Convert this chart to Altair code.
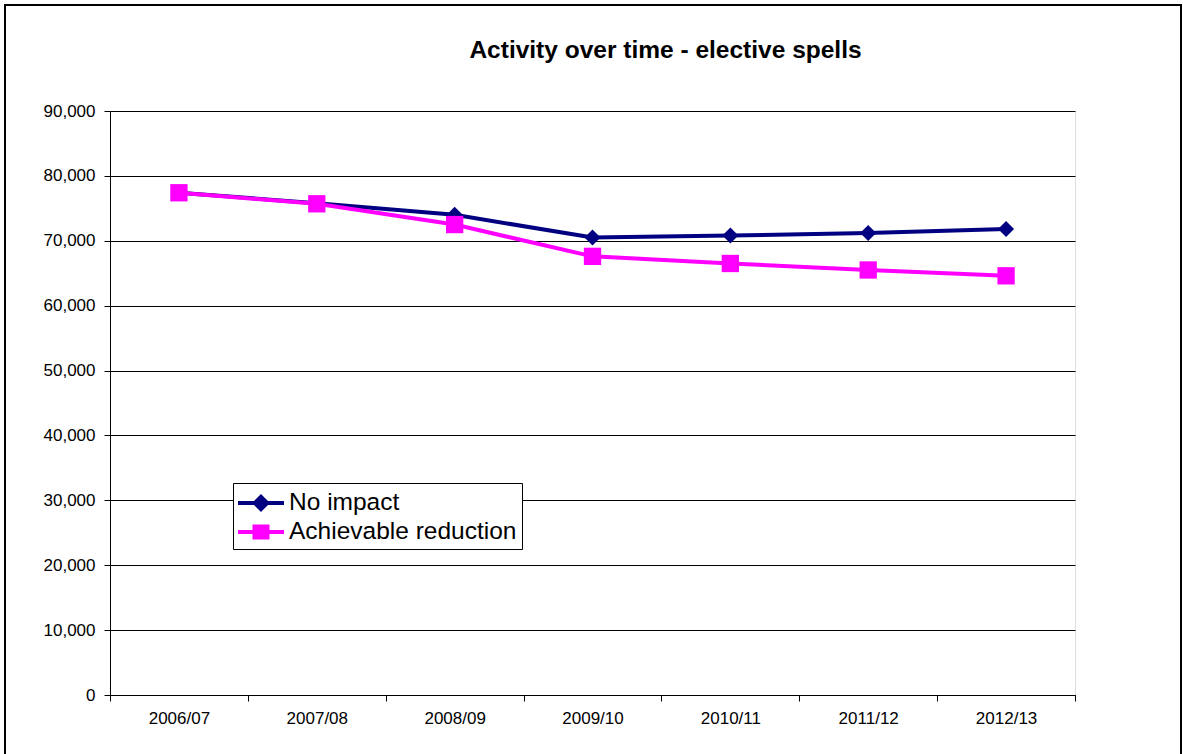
import altair as alt
import pandas as pd

years = ["2006/07", "2007/08", "2008/09", "2009/10", "2010/11", "2011/12", "2012/13"]
no_impact = [77400, 75800, 74000, 70500, 70800, 71200, 71800]
achievable = [77400, 75700, 72500, 67600, 66500, 65500, 64600]
series_names = ["No impact", "Achievable reduction"]
series_colors = ["#000080", "#FF00FF"]

df = pd.DataFrame({
    "year": years * 2,
    "value": no_impact + achievable,
    "series": [series_names[0]] * len(years) + [series_names[1]] * len(years),
})
df_a = df[df.series == series_names[0]]
df_b = df[df.series == series_names[1]]

FONT = "Liberation Sans"

x_enc = alt.X("year:N", sort=years, bandPosition=0.5,
              scale=alt.Scale(type="band", paddingInner=0, paddingOuter=0),
              axis=alt.Axis(title=None, tickBand="extent", labelAngle=0,
                            tickSize=6, labelPadding=9, labelFontSize=17,
                            labelFont=FONT, labelColor="black",
                            domainColor="black", tickColor="black", grid=False))
y_enc = alt.Y("value:Q",
              scale=alt.Scale(domain=[0, 90000], nice=False),
              axis=alt.Axis(title=None, values=list(range(0, 90001, 10000)),
                            format=",.0f", tickSize=6, labelPadding=9,
                            labelFontSize=17, labelFont=FONT, labelColor="black",
                            domainColor="black", tickColor="black",
                            grid=True, gridColor="black", gridWidth=1))

frame = alt.Chart(pd.DataFrame({"k": [0]})).mark_rect(
    fill=None, stroke="black", strokeWidth=2
).encode(x=alt.value(-105), x2=alt.value(1071), y=alt.value(-106), y2=alt.value(660))

line_a = alt.Chart(df_a).mark_line(color=series_colors[0], strokeWidth=4).encode(x=x_enc, y=y_enc)
pts_a = alt.Chart(df_a).mark_point(shape="diamond", filled=True, size=256, opacity=1,
                                   color=series_colors[0]).encode(x=x_enc, y=y_enc)
line_b = alt.Chart(df_b).mark_line(color=series_colors[1], strokeWidth=4).encode(x=x_enc, y=y_enc)
pts_b = alt.Chart(df_b).mark_point(shape="square", filled=True, size=300, opacity=1,
                                   color=series_colors[1]).encode(x=x_enc, y=y_enc)

# legend symbol paths (unit = 15 px with symbolSize 900): line 46px wide + marker in the middle
diamond_path = ("M-1,-0.133L0.067,-0.133L0.533,-0.6L1,-0.133L2.067,-0.133L2.067,0.133"
                "L1,0.133L0.533,0.6L0.067,0.133L-1,0.133Z")
square_path = ("M-1,-0.133L-0.033,-0.133L-0.033,-0.5L1.1,-0.5L1.1,-0.133L2.067,-0.133"
               "L2.067,0.133L1.1,0.133L1.1,0.5L-0.033,0.5L-0.033,0.133L-1,0.133Z")

leg = alt.Legend(title=None, orient="none", legendX=123, legendY=372,
                 symbolSize=900, symbolOpacity=1, symbolStrokeWidth=0,
                 labelFontSize=24.5, labelFont=FONT, labelColor="black", labelLimit=500,
                 labelOffset=21, rowPadding=2,
                 padding=5, strokeColor="black", fillColor="white", cornerRadius=0)

legend_layer = alt.Chart(df).mark_point(filled=True, opacity=0).encode(
    x=x_enc, y=y_enc,
    color=alt.Color("series:N", scale=alt.Scale(domain=series_names, range=series_colors),
                    legend=leg),
    shape=alt.Shape("series:N", scale=alt.Scale(domain=series_names,
                                                range=[diamond_path, square_path]),
                    legend=leg),
)

chart = alt.layer(frame, line_a, pts_a, line_b, pts_b, legend_layer).properties(
    width=965, height=584,
    title=alt.TitleParams("Activity over time - elective spells", font=FONT, fontSize=24.5,
                          fontWeight="bold", color="black", anchor="middle", dx=73,
                          baseline="alphabetic", offset=-78),
    autosize=alt.AutoSizeParams(type="none"),
    padding={"left": 110, "top": 111, "right": 108, "bottom": 59},
).configure_view(stroke="black", strokeWidth=1).configure(background="white")

chart.save("out.html", embed_options={"renderer": "svg", "actions": False})
